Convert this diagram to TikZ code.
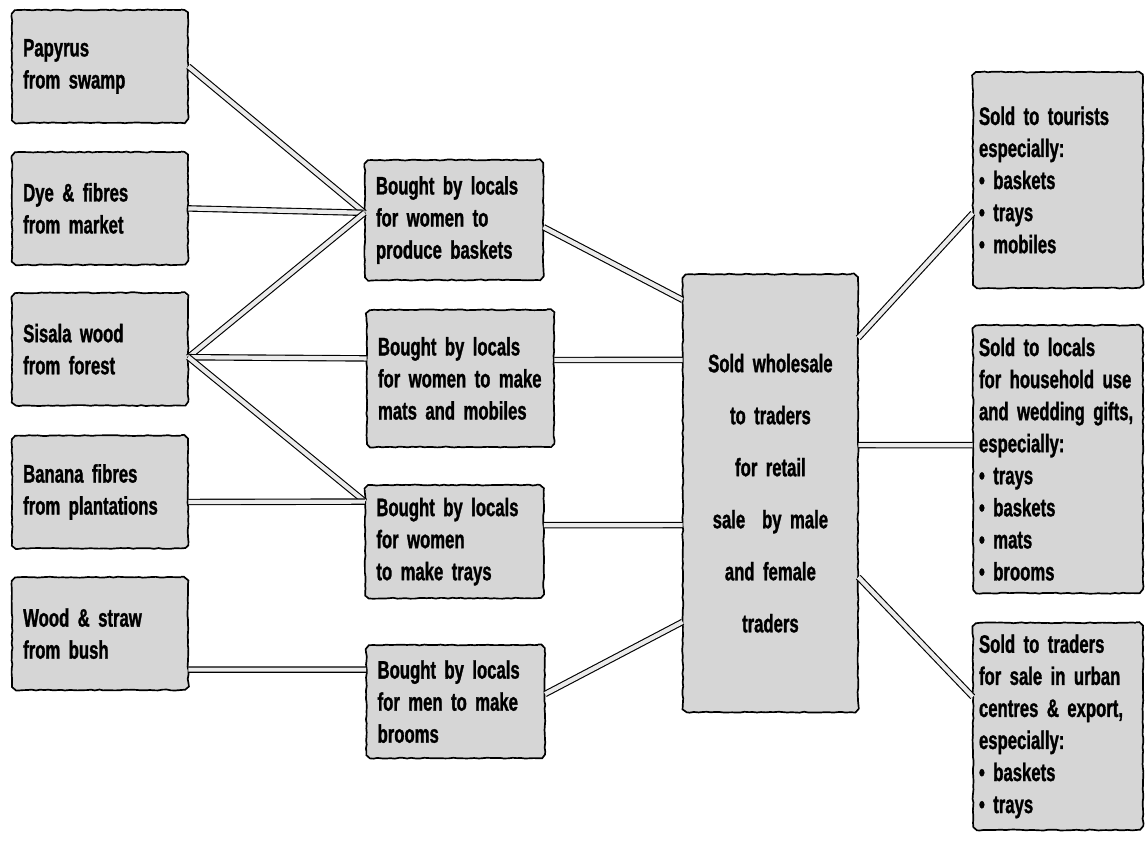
\documentclass[tikz,border=0pt]{standalone}
\usepackage{fontspec}
\setmainfont{Liberation Sans Bold}[FakeStretch=0.66, FakeBold=1.2]
\usetikzlibrary{decorations.pathmorphing}
\newcommand{\boxfont}{\fontsize{18}{22.8}\selectfont\spaceskip 3.6pt plus 1pt\relax}
\newcommand{\midfont}{\fontsize{18}{37}\selectfont\spaceskip 3.6pt plus 1pt\relax}

\begin{document}
\begin{tikzpicture}[
    box/.style={fill=black!16, rounded corners=5pt,
      postaction={draw, line width=1.2pt, sharp corners, decorate,
        decoration={random steps, segment length=3pt, amplitude=0.35pt}},
      inner xsep=0.28cm, inner ysep=0pt, align=left, font=\boxfont},
    src/.style={box, text width=3.84cm, minimum height=2.82cm},
    buy/.style={box, text width=3.9cm, minimum height=2.83cm},
    sink/.style={box, inner xsep=0.15cm, text width=3.95cm},
    link/.style={line width=0.8pt, double=black!8, double distance=3pt}
  ]
  \useasboundingbox (0cm, 0cm) rectangle (28.625cm, -21cm);
  % raw materials
  \node (papyrus) [src] at (2.5cm, -1.66cm) {Papyrus\\from swamp};
  \node (dye) [src] at (2.5cm, -5.21cm) {Dye \& fibres\\from market};
  \node (sisala) [src] at (2.5cm, -8.73cm) {Sisala wood\\from forest};
  \node (banana) [src] at (2.5cm, -12.3cm) {Banana fibres\\from plantations};
  \node (wood) [src] at (2.5cm, -15.84cm) {Wood \& straw\\from bush};
  % makers
  \node (b1) [buy, minimum height=3cm] at (11.35cm, -5.5cm) {Bought by locals\\for women to\\produce baskets};
  \node (b2) [buy, text width=4.12cm, minimum height=3.43cm] at (11.51cm, -9.46cm) {Bought by locals\\for women to make\\mats and mobiles};
  \node (b3) [buy] at (11.36cm, -13.54cm) {Bought by locals\\for women\\to make trays};
  \node (b4) [buy] at (11.39cm, -17.54cm) {Bought by locals\\for men to make\\brooms};
  % wholesale
  \node (ctr) [box, align=center, text width=3.82cm, minimum height=10.95cm,
    font=\midfont] at (19.26cm, -12.33cm)
    {Sold wholesale\\to traders\\for retail\\sale~ by male\\and female\\traders};
  % buyers
  \node (tour) [sink, minimum height=5.4cm] at (26.45cm, -4.5cm) {Sold to tourists\\especially:\\\textbullet\ baskets\\\textbullet\ trays\\\textbullet\ mobiles};
  \node (locals) [sink, minimum height=6.7cm] at (26.45cm, -11.48cm) {Sold to locals\\for household use\\and wedding gifts,\\especially:\\\textbullet\ trays\\\textbullet\ baskets\\\textbullet\ mats\\\textbullet\ brooms};
  \node (traders) [sink, minimum height=5.18cm] at (26.45cm, -18.16cm) {Sold to traders\\for sale in urban\\centres \& export,\\especially:\\\textbullet\ baskets\\\textbullet\ trays};
  % links
  \draw[link] (papyrus.east) -- ([yshift=0.18cm]b1.west);
  \draw[link] (dye.east) -- ([yshift=0.18cm]b1.west);
  \draw[link] ([yshift=-0.2cm]sisala.east) -- ([yshift=0.18cm]b1.west);
  \draw[link] ([yshift=-0.2cm]sisala.east) -- ([yshift=0.5cm]b2.west);
  \draw[link] ([yshift=-0.2cm]sisala.east) -- ([yshift=1cm]b3.west);
  \draw[link] ([yshift=-0.25cm]banana.east) -- ([yshift=1cm]b3.west);
  \draw[link] ([yshift=-0.9cm]wood.east) -- ([yshift=0.8cm]b4.west);
  \draw[link] ([yshift=-0.18cm]b1.east) -- ([yshift=-0.65cm]ctr.north west);
  \draw[link] ([yshift=0.46cm]b2.east) -- ([yshift=-2.15cm]ctr.north west);
  \draw[link] ([yshift=0.41cm]b3.east) -- ([yshift=-6.28cm]ctr.north west);
  \draw[link] ([yshift=0.19cm]b4.east) -- ([yshift=-8.7cm]ctr.north west);
  \draw[link] ([yshift=-1.6cm]ctr.north east) -- ([yshift=-0.83cm]tour.west);
  \draw[link] ([yshift=-4.28cm]ctr.north east) -- ([yshift=0.35cm]locals.west);
  \draw[link] ([yshift=-7.58cm]ctr.north east) -- ([yshift=0.74cm]traders.west);
\end{tikzpicture}
\end{document}
